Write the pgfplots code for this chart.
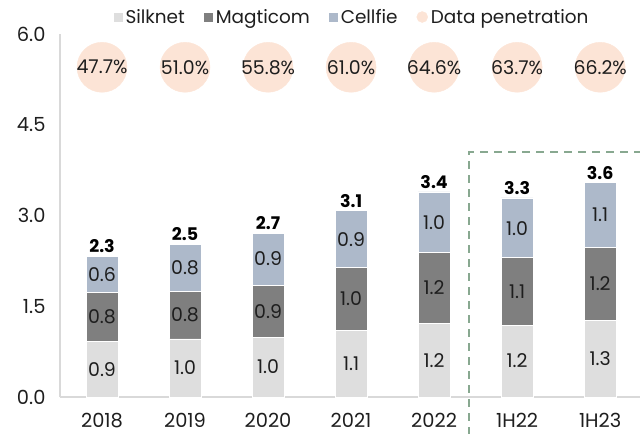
\documentclass[border=0pt]{standalone}
\usepackage{pgfplots}
\pgfplotsset{compat=1.18}
\usepackage{fontspec}
\setmainfont{Poppins}

\definecolor{silk}{HTML}{DEDEDE}
\definecolor{mag}{HTML}{7F7F7F}
\definecolor{cell}{HTML}{ADB9CA}
\definecolor{peach}{HTML}{FCE4D6}
\definecolor{boxgreen}{HTML}{88A890}
\definecolor{axisgray}{HTML}{D9D9D9}
\definecolor{lab}{HTML}{1E1E1E}

\pgfplotsset{
  sqleg/.style={legend image code/.code={\fill[##1, draw=none] (0bp,-4.5bp) rectangle (9bp,4.5bp);}},
  labplot/.style={only marks, mark=none, draw=none, nodes near coords, point meta=explicit symbolic,
    every node near coord/.append style={anchor=center, font=\fontsize{19}{21}\selectfont, text=lab}},
}

\begin{document}
\begin{tikzpicture}[font=\fontsize{18}{20}\selectfont]
\begin{axis}[
  at={(0,0)}, anchor=south west,
  scale only axis, width=580bp, height=363bp,
  xmin=-0.506, xmax=6.48, ymin=0, ymax=6,
  ybar stacked, bar width=32bp,
  axis x line*=bottom, axis y line*=left,
  axis line style={draw=axisgray, line width=1.5bp, -},
  major tick length=0pt,
  xtick={0,...,6}, xticklabels={2018,2019,2020,2021,2022,1H22,1H23},
  ytick={0,1.5,3,4.5,6},
  yticklabel style={/pgf/number format/fixed, /pgf/number format/fixed zerofill, /pgf/number format/precision=1, xshift=-11bp},
  /pgf/number format/assume math mode=true,
  xticklabel style={inner sep=0pt, yshift=-16bp},
  tick label style={font=\fontsize{19.5}{21}\selectfont, text=lab},
  legend columns=4,
  legend style={draw=none, fill=none, at={(0.5,1)}, anchor=center, xshift=2bp, yshift=17bp,
    font=\fontsize{18.5}{20}\selectfont, text=lab,
    /tikz/every odd column/.append style={column sep=1bp},
    /tikz/every even column/.append style={column sep=17bp}},
  legend cell align=left,
  clip=false,
]
\addplot[fill=silk, draw=white, line width=0.8bp, sqleg] coordinates {
  (0,0.92) (1,0.96) (2,0.99) (3,1.10) (4,1.22) (5,1.19) (6,1.27)};
\addlegendentry{Silknet}
\addplot[fill=mag, draw=white, line width=0.8bp, sqleg] coordinates {
  (0,0.81) (1,0.79) (2,0.86) (3,1.04) (4,1.17) (5,1.12) (6,1.20)};
\addlegendentry{Magticom}
\addplot[fill=cell, draw=white, line width=0.8bp, sqleg] coordinates {
  (0,0.59) (1,0.77) (2,0.86) (3,0.94) (4,1.00) (5,0.98) (6,1.07)};
\addlegendentry{Cellfie}
\addlegendimage{legend image code/.code={\fill[peach] (5.5bp,0bp) circle (5.5bp);}}
\addlegendentry{Data penetration}
\end{axis}
\begin{axis}[
  at={(0,0)}, anchor=south west,
  scale only axis, width=580bp, height=363bp,
  xmin=-0.506, xmax=6.48, ymin=0, ymax=6,
  hide axis, clip=false,
]
% data penetration bubbles
\addplot[only marks, color=peach, mark=*, mark size=25bp,
  nodes near coords, point meta=explicit symbolic,
  every node near coord/.append style={anchor=center, font=\fontsize{19}{21}\selectfont, text=lab}] coordinates {
  (0,5.45) [47.7\%] (1,5.45) [51.0\%] (2,5.45) [55.8\%] (3,5.45) [61.0\%] (4,5.45) [64.6\%] (5,5.45) [63.7\%] (6,5.45) [66.2\%]};
% Silknet segment labels (segment centres)
\addplot[labplot] coordinates {
  (0,0.46) [0.9] (1,0.48) [1.0] (2,0.495) [1.0] (3,0.55) [1.1] (4,0.61) [1.2] (5,0.595) [1.2] (6,0.635) [1.3]};
% Magticom segment labels
\addplot[labplot] coordinates {
  (0,1.325) [0.8] (1,1.355) [0.8] (2,1.42) [0.9] (3,1.62) [1.0] (4,1.805) [1.2] (5,1.745) [1.1] (6,1.87) [1.2]};
% Cellfie segment labels
\addplot[labplot] coordinates {
  (0,2.025) [0.6] (1,2.135) [0.8] (2,2.28) [0.9] (3,2.61) [0.9] (4,2.89) [1.0] (5,2.79) [1.0] (6,3.005) [1.1]};
% totals
\addplot[labplot, every node near coord/.append style={anchor=south, font=\fontsize{17.5}{19}\selectfont\bfseries, text=black}] coordinates {
  (0,2.32) [2.3] (1,2.52) [2.5] (2,2.71) [2.7] (3,3.08) [3.1] (4,3.39) [3.4] (5,3.29) [3.3] (6,3.54) [3.6]};
\draw[boxgreen, line width=1.3bp, dash pattern=on 8bp off 6bp] (axis cs:4.42,-0.62) -- (axis cs:4.42,4.05) -- (axis cs:6.48,4.05);
\end{axis}
\pgfresetboundingbox
\useasboundingbox (-60bp,-37bp) rectangle (580bp,397bp);
\end{tikzpicture}
\end{document}
